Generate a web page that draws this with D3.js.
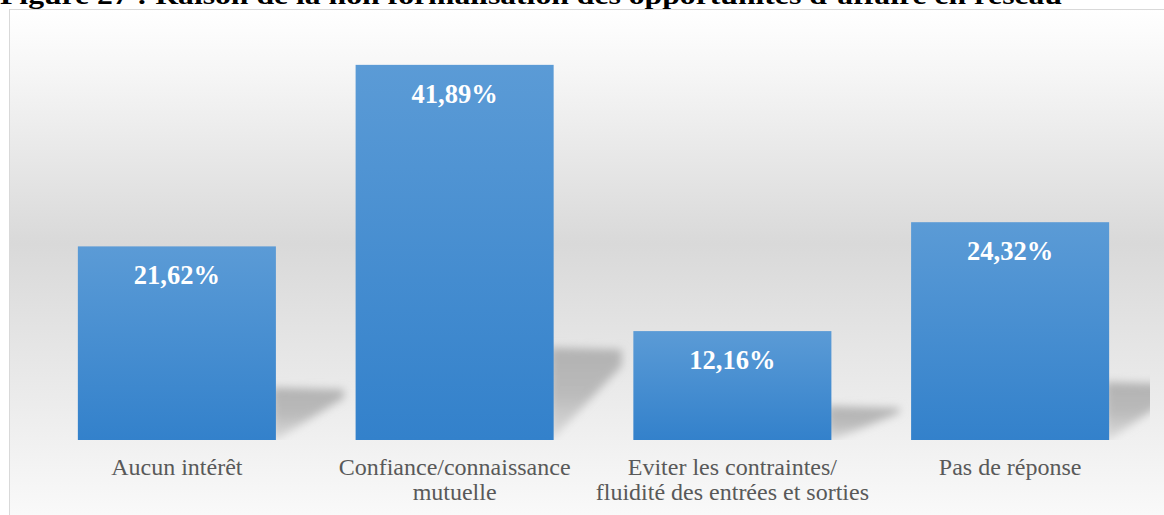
<!DOCTYPE html>
<html><head><meta charset="utf-8">
<script src="https://cdn.jsdelivr.net/npm/d3@7"></script>
<style>html,body{margin:0;padding:0;background:#fff;overflow:hidden}</style>
</head><body>
<svg id="c" width="1164" height="515"></svg>
<script>
const titleText = "Figure 27 : Raison de la non formalisation des opportunités d’affaire en réseau";
const categories = [["Aucun intérêt"], ["Confiance/connaissance", "mutuelle"], ["Eviter les contraintes/", "fluidité des entrées et sorties"], ["Pas de réponse"]];
const values = [21.62, 41.89, 12.16, 24.32];
const valueLabels = ["21,62%", "41,89%", "12,16%", "24,32%"];

const FONT = '"Liberation Serif"';
const svg = d3.select("#c");
const defs = svg.append("defs");

const bg = defs.append("linearGradient").attr("id","bg").attr("x1",0).attr("y1",0).attr("x2",0).attr("y2",1);
[["0%","#ffffff"],["12%","#f6f6f6"],["45%","#d9d9d9"],["84%","#f1f1f1"],["100%","#fbfbfb"]].forEach(s=>bg.append("stop").attr("offset",s[0]).attr("stop-color",s[1]));
const bar = defs.append("linearGradient").attr("id","bar").attr("x1",0).attr("y1",0).attr("x2",0).attr("y2",1);
[["0%","#5b9bd6"],["100%","#3381cb"]].forEach(s=>bar.append("stop").attr("offset",s[0]).attr("stop-color",s[1]));
const sh = defs.append("linearGradient").attr("id","sh").attr("x1",0).attr("y1",0).attr("x2",0).attr("y2",1);
[["0%","#b2b2b2",1],["50%","#b8b8b8",0.95],["100%","#cfcfcf",0.6]].forEach(s=>sh.append("stop").attr("offset",s[0]).attr("stop-color",s[1]).attr("stop-opacity",s[2]));
defs.append("filter").attr("id","blur").attr("x","-30%").attr("y","-30%").attr("width","160%").attr("height","160%")
  .append("feGaussianBlur").attr("stdDeviation",4.5);
defs.append("clipPath").attr("id","clip").append("rect").attr("x",9).attr("y",9).attr("width",1141).attr("height",431);

// chart area box
svg.append("rect").attr("x",9.5).attr("y",9.5).attr("width",1170).attr("height",520)
  .attr("fill","url(#bg)").attr("stroke","#d9d9d9").attr("stroke-width",1);

// title (partially cut at top, as in the reference)
svg.append("text").attr("x",0).attr("y",4)
  .style("font-family",FONT).style("font-weight","bold").style("font-size","26px").attr("fill","#000")
  .attr("textLength",1062).attr("lengthAdjust","spacingAndGlyphs").text(titleText);

const x = d3.scaleBand().domain(d3.range(values.length)).range([38, 1149]).paddingInner(0.287).paddingOuter(0.1435);
const y = d3.scaleLinear().domain([0, 45]).range([440, 37]);

// shadows
const g = svg.append("g").attr("clip-path","url(#clip)");
g.selectAll("path.sh").data(values).join("path")
  .attr("d",(v,i)=>{
    const xr = x(i)+x.bandwidth(), base = y(0), h = y(0)-y(v);
    const s = 0.22*h+10, d = 68;
    return `M${xr-4},${base+2}L${xr-4},${base-s}L${xr+d},${base-s+2}L${xr+d},${base-s*0.8}Z`;
  })
  .attr("fill","url(#sh)").attr("filter","url(#blur)");

// bars
svg.selectAll("rect.bar").data(values).join("rect").attr("class","bar")
  .attr("x",(v,i)=>x(i)).attr("width",x.bandwidth())
  .attr("y",v=>y(v)).attr("height",v=>y(0)-y(v)).attr("fill","url(#bar)");

// value labels
svg.selectAll("text.val").data(values).join("text").attr("class","val")
  .attr("x",(v,i)=>x(i)+x.bandwidth()/2).attr("y",v=>y(v)+38)
  .attr("text-anchor","middle")
  .style("font-family",FONT).style("font-weight","bold").style("font-size","26.5px").attr("fill","#fff")
  .text((v,i)=>valueLabels[i]);

// category labels
const cl = svg.selectAll("text.cat").data(categories).join("text").attr("class","cat")
  .attr("text-anchor","middle").style("font-family",FONT).style("font-size","24px").attr("fill","#595959");
cl.each(function(lines,i){
  d3.select(this).selectAll("tspan").data(lines).join("tspan")
    .attr("x",x(i)+x.bandwidth()/2).attr("y",(l,j)=>475+j*25).text(l=>l);
});
</script>
</body></html>
